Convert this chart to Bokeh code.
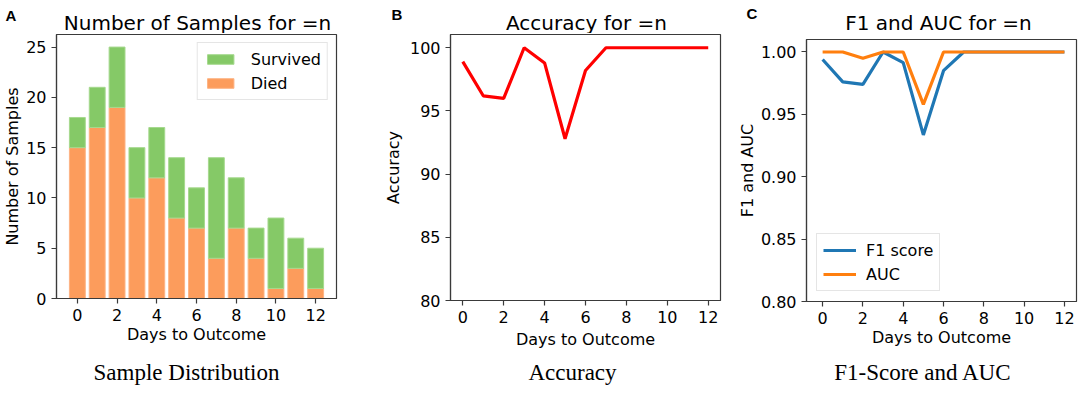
from bokeh.plotting import figure
from bokeh.models import Range1d, Label, Legend, LegendItem, FixedTicker, PrintfTickFormatter, ColumnDataSource
from bokeh.layouts import row, column
from bokeh.embed import file_html
from bokeh.resources import INLINE

# ---------------- data ----------------
days = [0, 1, 2, 3, 4, 5, 6, 7, 8, 9, 10, 11, 12]
died = [15, 17, 19, 10, 12, 8, 7, 4, 7, 4, 1, 3, 1]
survived = [3, 4, 6, 5, 5, 6, 4, 10, 5, 3, 7, 3, 4]
accuracy = [98.9, 96.2, 96.0, 100, 98.8, 92.8, 98.2, 100, 100, 100, 100, 100, 100]
f1_score = [0.994, 0.976, 0.974, 1.0, 0.9915, 0.9335, 0.985, 1.0, 1.0, 1.0, 1.0, 1.0, 1.0]
auc = [1.0, 1.0, 0.995, 1.0, 1.0, 0.958, 1.0, 1.0, 1.0, 1.0, 1.0, 1.0, 1.0]
x_ticks = [0, 2, 4, 6, 8, 10, 12]
a_ticks = [0, 5, 10, 15, 20, 25]
b_ticks = [80, 85, 90, 95, 100]
c_ticks = [0.80, 0.85, 0.90, 0.95, 1.00]

FONT = "DejaVu Sans"
DARK = "#3a3a3a"
TOTAL_W = 1068


def text_canvas(w, h):
    """A figure used only as a canvas for free text (no axes, no frame lines)."""
    t = figure(frame_width=w, frame_height=h, title=None, x_axis_type=None, y_axis_type=None,
               output_backend="svg", toolbar_location=None,
               min_border_left=0, min_border_right=0, min_border_top=0, min_border_bottom=0)
    t.grid.visible = False
    t.outline_line_color = None
    t.background_fill_alpha = 0
    t.border_fill_alpha = 0
    return t


def add_text(p, text, x, y, size, font=FONT, fstyle="normal", align="center", baseline="middle"):
    p.add_layout(Label(x=x, y=y, x_units="screen", y_units="screen", text=text,
                       text_font=font, text_font_size=size, text_font_style=fstyle,
                       text_align=align, text_baseline=baseline, text_color="black"))


def make_fig(xr, yr, fw, fh, left, right, top, bottom):
    p = figure(frame_width=fw, frame_height=fh, x_range=xr, y_range=yr, title=None,
               output_backend="svg", toolbar_location=None,
               min_border_left=left, min_border_right=right,
               min_border_top=top, min_border_bottom=bottom)
    return p


def style(p, yticks, yfmt=None, label_standoff=1):
    p.grid.visible = False
    p.background_fill_color = "white"
    p.border_fill_alpha = 0
    p.outline_line_color = DARK
    p.outline_line_width = 1.2
    for ax in (p.xaxis[0], p.yaxis[0]):
        ax.axis_line_color = DARK
        ax.axis_line_width = 1.2
        ax.major_tick_line_color = DARK
        ax.major_tick_line_width = 1.2
        ax.major_tick_out = 5
        ax.major_tick_in = 0
        ax.minor_tick_line_color = None
        ax.major_label_text_font = FONT
        ax.major_label_text_font_size = "16px"
        ax.major_label_text_color = "black"
        ax.major_label_standoff = 5
        ax.axis_label_text_font = FONT
        ax.axis_label_text_font_size = "16px"
        ax.axis_label_text_font_style = "normal"
        ax.axis_label_text_color = "black"
        ax.axis_label_standoff = label_standoff
    p.xaxis[0].ticker = FixedTicker(ticks=x_ticks)
    p.yaxis[0].ticker = FixedTicker(ticks=yticks)
    if yfmt:
        p.yaxis[0].formatter = PrintfTickFormatter(format=yfmt)
    p.xaxis[0].axis_label = "Days to Outcome"


def legend_style(lg):
    lg.label_text_font = FONT
    lg.label_text_font_size = "16px"
    lg.label_text_color = "black"
    lg.padding = 6
    lg.spacing = 4
    lg.label_height = 20
    lg.glyph_width = 33
    lg.border_line_color = "#cccccc"
    lg.border_line_width = 1
    lg.background_fill_alpha = 0.85


# ---------------- header (panel letters and titles) ----------------
head = text_canvas(TOTAL_W, 33)
add_text(head, "A", 5, 18, "15px", font="Liberation Sans", fstyle="bold", align="left")
add_text(head, "Number of Samples for =n", 197, 11, "20px", baseline="alphabetic")
add_text(head, "B", 391, 19.5, "15px", font="Liberation Sans", fstyle="bold", align="left")
add_text(head, "Accuracy for =n", 586, 11, "20px", baseline="alphabetic")
add_text(head, "C", 746, 20.5, "15px", font="Liberation Sans", fstyle="bold", align="left")
add_text(head, "F1 and AUC for =n", 938, 11, "20px", baseline="alphabetic")

# ---------------- panel A ----------------
pa = make_fig(Range1d(-1.05, 13.05), Range1d(0, 26.25), 280, 264, 50, 40, 1, 54)
style(pa, a_ticks, label_standoff=1)
pa.yaxis[0].axis_label = "Number of Samples"
src = ColumnDataSource(dict(days=days, died=died,
                            total=[d + s for d, s in zip(died, survived)]))
r_died = pa.vbar(x="days", width=0.8, bottom=0, top="died", source=src,
                 fill_color="#fc9c5c", line_color="#fdb384", line_width=1)
r_surv = pa.vbar(x="days", width=0.8, bottom="died", top="total", source=src,
                 fill_color="#85c967", line_color="#a6d98e", line_width=1)
lga = Legend(items=[LegendItem(label="Survived", renderers=[r_surv]),
                    LegendItem(label="Died", renderers=[r_died])],
             location="top_right", glyph_height=12)
legend_style(lga)
lga.margin = 8
lga.label_standoff = 14
pa.add_layout(lga)

# ---------------- panel B ----------------
pb = make_fig(Range1d(-0.6, 12.6), Range1d(80, 101.05), 270, 266, 74, 14, 1, 52)
style(pb, b_ticks, label_standoff=4)
pb.yaxis[0].axis_label = "Accuracy"
pb.line(days, accuracy, line_color="#ff0000", line_width=3.2)

# ---------------- panel C ----------------
pc = make_fig(Range1d(-0.8, 12.6), Range1d(0.80, 1.01), 270, 262, 68, 2, 6, 51)
style(pc, c_ticks, yfmt="%.2f", label_standoff=1)
pc.yaxis[0].axis_label = "F1 and AUC"
r_f1 = pc.line(days, f1_score, line_color="#1f77b4", line_width=3.2)
r_auc = pc.line(days, auc, line_color="#ff7f0e", line_width=3.2)
lgc = Legend(items=[LegendItem(label="F1 score", renderers=[r_f1]),
                    LegendItem(label="AUC", renderers=[r_auc])],
             location="bottom_left", glyph_height=20)
legend_style(lgc)
lgc.margin = 10
lgc.label_standoff = 10
pc.add_layout(lgc)

# ---------------- footer (captions) ----------------
foot = text_canvas(TOTAL_W, 40)
add_text(foot, "Sample Distribution", 186, 20, "23px", font="Liberation Serif")
add_text(foot, "Accuracy", 572, 20, "23px", font="Liberation Serif")
add_text(foot, "F1-Score and AUC", 922.5, 20, "23px", font="Liberation Serif")

layout = column(head,
                row(column(pa), column(pb), column(pc), spacing=0),
                foot, spacing=0)
open("out.html", "w").write(file_html(layout, INLINE))
